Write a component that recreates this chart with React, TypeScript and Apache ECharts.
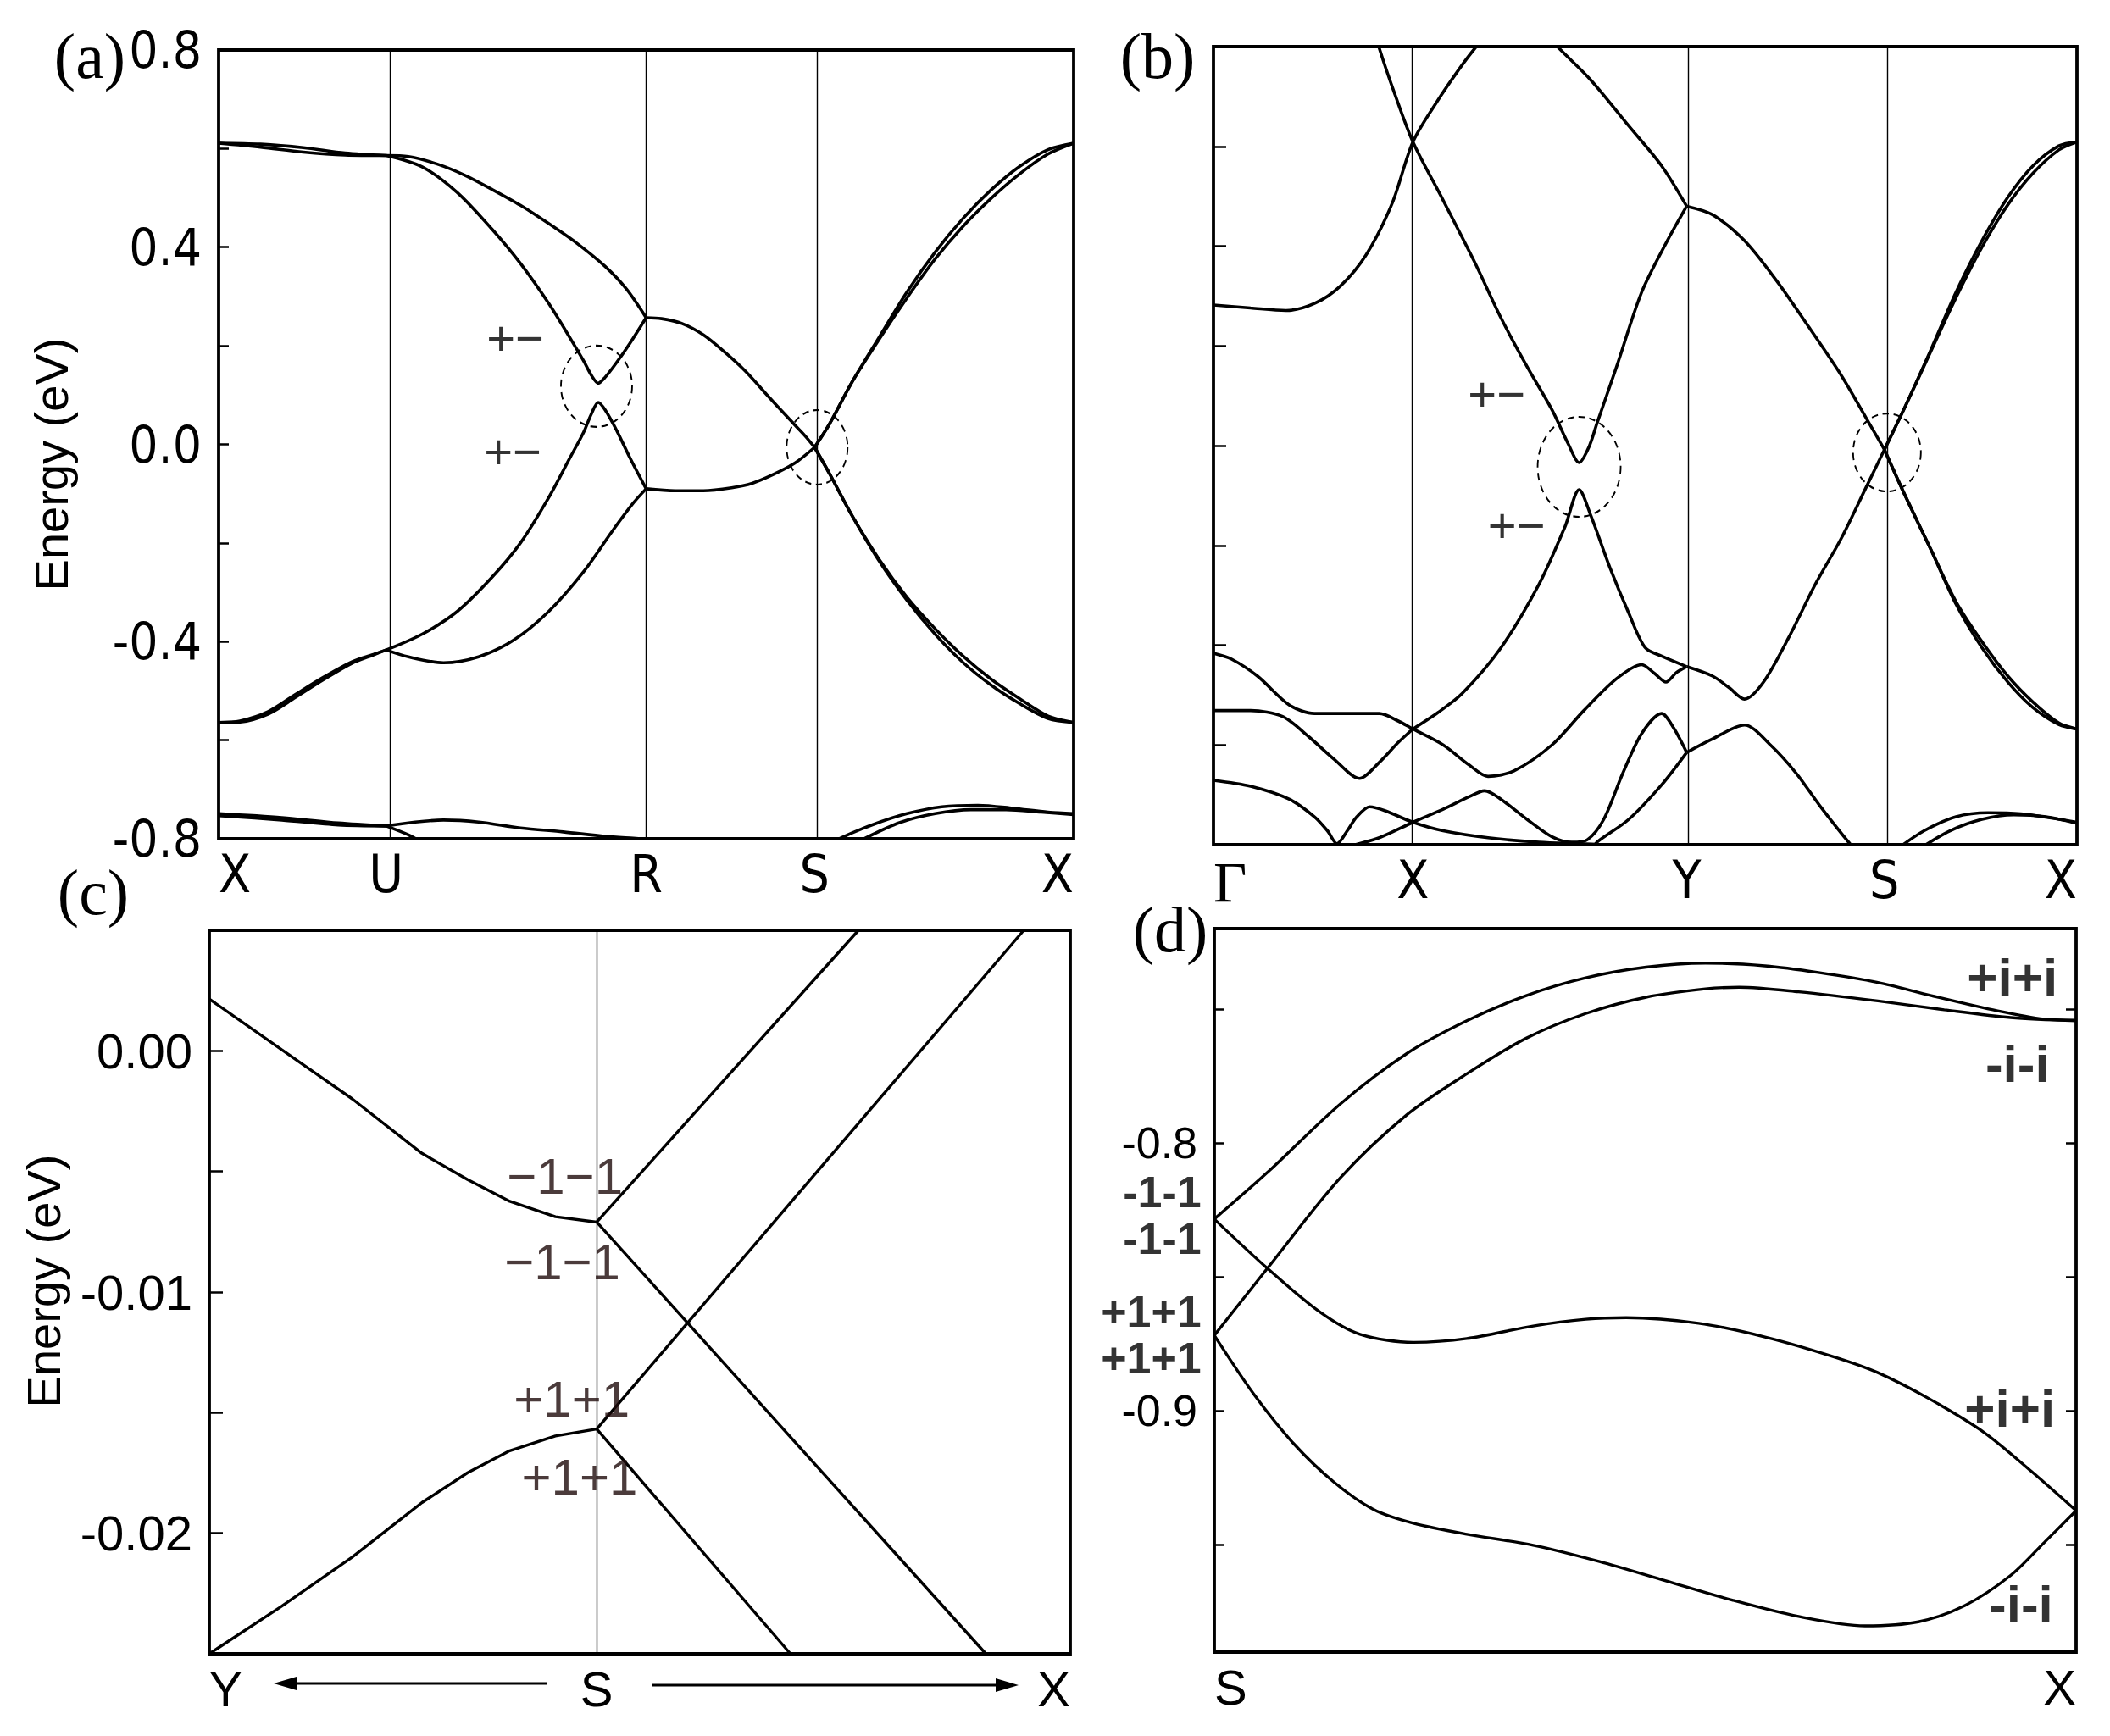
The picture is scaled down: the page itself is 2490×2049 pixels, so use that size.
import React, { useEffect, useRef } from "react";
import * as echarts from "echarts";

// ---------------- panel (a) ----------------
const aKLabels = ["X", "U", "R", "S", "X"];
const aKPos = [0, 0.196, 0.5, 0.697, 1];
const aXU1 = [[0, 0.611], [0.049, 0.609], [0.099, 0.602], [0.148, 0.591], [0.196, 0.586]];
const aXU2 = [[0, 0.611], [0.049, 0.603], [0.099, 0.593], [0.148, 0.587], [0.196, 0.586]];
const aUR1 = [[0.196, 0.586], [0.222, 0.584], [0.255, 0.569], [0.288, 0.546], [0.32, 0.517], [0.353, 0.485], [0.386, 0.448], [0.419, 0.408], [0.452, 0.361], [0.477, 0.315], [0.5, 0.257]];
const aUR2 = [[0.196, 0.586], [0.238, 0.563], [0.279, 0.511], [0.32, 0.436], [0.353, 0.367], [0.386, 0.286], [0.411, 0.216], [0.427, 0.169], [0.436, 0.14], [0.444, 0.124], [0.452, 0.136], [0.465, 0.165], [0.481, 0.205], [0.5, 0.257]];
const aRS1 = [[0.5, 0.257], [0.518, 0.255], [0.542, 0.245], [0.567, 0.222], [0.592, 0.187], [0.617, 0.147], [0.641, 0.101], [0.666, 0.054], [0.686, 0.017], [0.697, -0.006]];
const aSX1 = [[0.697, -0.006], [0.715, 0.043], [0.74, 0.124], [0.772, 0.216], [0.805, 0.309], [0.838, 0.39], [0.871, 0.459], [0.904, 0.517], [0.937, 0.564], [0.97, 0.598], [1, 0.611]];
const aSX2 = [[0.697, -0.006], [0.715, 0.043], [0.74, 0.124], [0.772, 0.212], [0.805, 0.297], [0.838, 0.376], [0.871, 0.443], [0.904, 0.5], [0.937, 0.549], [0.97, 0.589], [1, 0.611]];
const aSX3 = [[0.697, -0.006], [0.715, -0.061], [0.74, -0.142], [0.772, -0.235], [0.805, -0.316], [0.838, -0.385], [0.871, -0.443], [0.904, -0.489], [0.937, -0.526], [0.97, -0.556], [1, -0.564]];
const aSX4 = [[0.697, -0.006], [0.715, -0.061], [0.74, -0.142], [0.772, -0.232], [0.805, -0.31], [0.838, -0.374], [0.871, -0.43], [0.904, -0.477], [0.937, -0.516], [0.97, -0.551], [1, -0.564]];
const aXU3 = [[0, -0.564], [0.025, -0.561], [0.058, -0.542], [0.09, -0.507], [0.123, -0.472], [0.156, -0.441], [0.181, -0.426], [0.196, -0.417]];
const aXU4 = [[0, -0.564], [0.025, -0.563], [0.058, -0.547], [0.09, -0.513], [0.123, -0.477], [0.156, -0.444], [0.181, -0.427], [0.196, -0.417]];
const aUR3 = [[0.196, -0.417], [0.238, -0.385], [0.279, -0.339], [0.32, -0.269], [0.353, -0.2], [0.386, -0.108], [0.411, -0.027], [0.427, 0.025], [0.436, 0.062], [0.444, 0.085], [0.452, 0.07], [0.465, 0.03], [0.481, -0.027], [0.5, -0.09]];
const aUR4 = [[0.196, -0.417], [0.222, -0.431], [0.263, -0.443], [0.304, -0.431], [0.345, -0.397], [0.386, -0.339], [0.427, -0.258], [0.46, -0.177], [0.485, -0.119], [0.5, -0.09]];
const aRS2 = [[0.5, -0.09], [0.534, -0.094], [0.567, -0.094], [0.6, -0.088], [0.624, -0.079], [0.649, -0.061], [0.674, -0.038], [0.697, -0.006]];
const aXU5 = [[0, -0.749], [0.074, -0.757], [0.14, -0.768], [0.196, -0.774]];
const aXU6 = [[0, -0.753], [0.074, -0.762], [0.14, -0.772], [0.196, -0.774]];
const aUR5 = [[0.196, -0.774], [0.23, -0.766], [0.263, -0.762], [0.304, -0.766], [0.353, -0.778], [0.403, -0.786], [0.452, -0.795], [0.485, -0.799], [0.52, -0.803]];
const aUR6 = [[0.196, -0.774], [0.222, -0.792], [0.238, -0.807]];
const aSX5 = [[0.715, -0.813], [0.727, -0.799], [0.764, -0.772], [0.805, -0.749], [0.846, -0.735], [0.888, -0.732], [0.929, -0.738], [0.97, -0.746], [1, -0.749]];
const aSX6 = [[0.745, -0.812], [0.756, -0.799], [0.797, -0.767], [0.838, -0.749], [0.88, -0.741], [0.921, -0.741], [0.962, -0.746], [1, -0.751]];
const aMarkText = ["+\u2212", "+\u2212"];
const aMarkPos = [[0.347, 0.216], [0.344, -0.013]];
const aCirclePos = [[0.442, 0.118], [0.7, -0.006]];

// ---------------- panel (b) ----------------
const bKLabels = ["\u0393", "X", "Y", "S", "X"];
const bKPos = [0, 0.231, 0.548, 0.777, 1];
const b1 = [[0, 0.282], [0.043, 0.276], [0.084, 0.271], [0.117, 0.285], [0.147, 0.32], [0.177, 0.383], [0.207, 0.486], [0.231, 0.609], [0.259, 0.69], [0.285, 0.756], [0.303, 0.797], [0.318, 0.825]];
const b2 = [[0.184, 0.848], [0.192, 0.797], [0.21, 0.705], [0.231, 0.609], [0.266, 0.492], [0.303, 0.366], [0.333, 0.256], [0.363, 0.159], [0.392, 0.072], [0.411, 0.003], [0.4235, -0.034], [0.435, -0.002], [0.444, 0.044], [0.467, 0.159], [0.496, 0.308], [0.526, 0.412], [0.548, 0.48]];
const b3 = [[0.385, 0.825], [0.4, 0.797], [0.437, 0.733], [0.481, 0.641], [0.519, 0.561], [0.548, 0.48]];
const b4 = [[0.548, 0.48], [0.578, 0.463], [0.615, 0.411], [0.652, 0.331], [0.689, 0.239], [0.727, 0.141], [0.756, 0.055], [0.777, -0.008]];
const b5 = [[0.777, -0.008], [0.801, 0.078], [0.831, 0.193], [0.86, 0.308], [0.89, 0.411], [0.92, 0.498], [0.949, 0.561], [0.979, 0.601], [1, 0.609]];
const b5b = [[0.777, -0.008], [0.801, 0.078], [0.831, 0.19], [0.86, 0.297], [0.89, 0.398], [0.92, 0.483], [0.949, 0.546], [0.979, 0.593], [1, 0.609]];
const b6 = [[0.777, -0.008], [0.801, -0.1], [0.831, -0.209], [0.86, -0.313], [0.89, -0.393], [0.92, -0.462], [0.949, -0.514], [0.979, -0.556], [1, -0.568]];
const b6b = [[0.777, -0.008], [0.801, -0.1], [0.831, -0.209], [0.86, -0.318], [0.89, -0.405], [0.92, -0.474], [0.949, -0.525], [0.979, -0.559], [1, -0.568]];
const b7 = [[0.231, -0.568], [0.26, -0.535], [0.288, -0.497], [0.333, -0.405], [0.377, -0.278], [0.407, -0.163], [0.4235, -0.0885], [0.437, -0.14], [0.459, -0.244], [0.481, -0.336], [0.5, -0.405], [0.519, -0.422], [0.548, -0.443]];
const b8 = [[0, -0.416], [0.021, -0.428], [0.051, -0.462], [0.088, -0.52], [0.117, -0.537], [0.155, -0.537], [0.192, -0.537], [0.214, -0.552], [0.231, -0.568], [0.266, -0.6], [0.296, -0.64], [0.318, -0.663], [0.348, -0.652], [0.392, -0.6], [0.429, -0.531], [0.467, -0.467], [0.496, -0.439], [0.511, -0.457], [0.524, -0.474], [0.536, -0.455], [0.548, -0.443]];
const b9 = [[0, -0.531], [0.043, -0.531], [0.08, -0.543], [0.11, -0.583], [0.14, -0.629], [0.169, -0.667], [0.192, -0.635], [0.214, -0.595], [0.231, -0.568]];
const b10 = [[0, -0.671], [0.043, -0.683], [0.088, -0.709], [0.117, -0.744], [0.132, -0.772], [0.143, -0.798], [0.155, -0.772], [0.166, -0.744], [0.181, -0.724], [0.199, -0.732], [0.231, -0.755], [0.266, -0.772], [0.318, -0.786], [0.377, -0.795], [0.4235, -0.798], [0.452, -0.8], [0.47, -0.802]];
const b11 = [[0.148, -0.812], [0.155, -0.805], [0.192, -0.786], [0.231, -0.755], [0.266, -0.729], [0.296, -0.704], [0.314, -0.692], [0.333, -0.709], [0.363, -0.749], [0.392, -0.784], [0.415, -0.795], [0.433, -0.79], [0.452, -0.749], [0.474, -0.657], [0.496, -0.577], [0.519, -0.537], [0.533, -0.566], [0.548, -0.615]];
const b12 = [[0.44, -0.805], [0.444, -0.795], [0.481, -0.749], [0.519, -0.68], [0.548, -0.615]];
const b13 = [[0.548, -0.443], [0.578, -0.462], [0.597, -0.485], [0.615, -0.508], [0.637, -0.474], [0.667, -0.382], [0.697, -0.278], [0.727, -0.186], [0.756, -0.083], [0.777, -0.008]];
const b14 = [[0.548, -0.615], [0.578, -0.588], [0.615, -0.56], [0.645, -0.6], [0.675, -0.657], [0.704, -0.726], [0.738, -0.8], [0.749, -0.818]];
const b15 = [[0.793, -0.807], [0.823, -0.772], [0.86, -0.744], [0.897, -0.736], [0.935, -0.738], [0.972, -0.747], [1, -0.755]];
const b16 = [[0.819, -0.807], [0.853, -0.772], [0.89, -0.749], [0.927, -0.74], [0.964, -0.744], [1, -0.757]];
const bMarkText = ["+\u2212", "+\u2212"];
const bMarkPos = [[0.328, 0.104], [0.351, -0.158]];
const bCirclePos = [[0.4235, -0.0425], [0.78, -0.0138]];

// ---------------- panel (c) ----------------
const cKLabels = ["Y", "S", "X"];
const cKPos = [0, 0.45, 1];
const c1 = [[0, 0.00215], [0.084, 0.00005], [0.166, -0.00199], [0.247, -0.00425], [0.3, -0.00534], [0.349, -0.00624], [0.402, -0.00688], [0.45, -0.0071]];
const c2 = [[0.45, -0.0071], [0.754, 0.005]];
const c3 = [[0.45, -0.0071], [0.902, -0.025]];
const c4 = [[0, -0.025], [0.084, -0.02303], [0.166, -0.02099], [0.247, -0.01873], [0.3, -0.01749], [0.349, -0.01658], [0.402, -0.01597], [0.45, -0.01568]];
const c5 = [[0.45, -0.01568], [0.946, 0.005]];
const c6 = [[0.45, -0.01568], [0.675, -0.025]];
const cYLabels = [0, -0.01, -0.02];
const cYTicks = [0, -0.005, -0.01, -0.015, -0.02];
const cMarkText = ["\u22121\u22121", "\u22121\u22121", "+1+1", "+1+1"];
const cMarkPos = [[0.413, -0.00519], [0.41, -0.00877], [0.421, -0.01446], [0.43, -0.01769]];

// ---------------- panel (d) ----------------
const dKLabels = ["S", "X"];
const dKPos = [0, 1];
const d1 = [[0, -0.8284], [0.0616, -0.811], [0.146, -0.7855], [0.223, -0.7667], [0.293, -0.7544], [0.362, -0.745], [0.431, -0.7384], [0.501, -0.7344], [0.57, -0.7329], [0.639, -0.7339], [0.701, -0.7364], [0.77, -0.7401], [0.832, -0.745], [0.909, -0.7507], [0.963, -0.7538], [1, -0.7542]];
const d2 = [[0, -0.8718], [0.0616, -0.8468], [0.146, -0.8131], [0.223, -0.7896], [0.293, -0.7742], [0.362, -0.7609], [0.431, -0.7517], [0.501, -0.7456], [0.57, -0.7425], [0.609, -0.7419], [0.678, -0.7436], [0.77, -0.747], [0.847, -0.7503], [0.924, -0.7532], [1, -0.7544]];
const d3 = [[0, -0.8284], [0.0616, -0.8468], [0.123, -0.8632], [0.169, -0.8714], [0.231, -0.8744], [0.293, -0.873], [0.37, -0.8683], [0.431, -0.8658], [0.478, -0.8652], [0.562, -0.8673], [0.639, -0.8724], [0.717, -0.8796], [0.77, -0.8857], [0.832, -0.8959], [0.894, -0.9082], [0.948, -0.9225], [1, -0.9372]];
const d4 = [[0, -0.8718], [0.0462, -0.8939], [0.0924, -0.9123], [0.139, -0.9266], [0.185, -0.9368], [0.231, -0.9419], [0.293, -0.946], [0.37, -0.9501], [0.447, -0.9562], [0.524, -0.9634], [0.601, -0.9706], [0.678, -0.9767], [0.755, -0.9802], [0.817, -0.9787], [0.871, -0.9726], [0.924, -0.9614], [0.963, -0.9491], [1, -0.9372]];
const dYLabels = [-0.8, -0.9];
const dYTicks = [-0.75, -0.8, -0.85, -0.9, -0.95];
const dRightText = ["+i+i", "-i-i", "+i+i", "-i-i"];
const dRightPos = [[0.926, -0.7383], [0.932, -0.7703], [0.923, -0.899], [0.936, -0.972]];
const dLeftText = ["-1-1\n-1-1", "+1+1\n+1+1"];
const dLeftPos = [[-0.015, -0.827], [-0.015, -0.8715]];

// ---------------- styles ----------------
const NARROW = "'Liberation Sans Narrow', 'DejaVu Sans Condensed', 'Arial Narrow', sans-serif";
const SANS = "'Liberation Sans', Arial, sans-serif";
const SERIF = "'Liberation Serif', 'Times New Roman', serif";

const pick = (pos: number[], names: string[], v: number) => {
  const i = pos.findIndex((p) => Math.abs(p - v) < 1e-6);
  return i >= 0 ? names[i] : "";
};

const band = (data: number[][], g: number, smooth = true, width = 3.6) => ({
  type: "line",
  xAxisIndex: g,
  yAxisIndex: g,
  data,
  smooth: smooth ? 0.3 : false,
  symbol: "none",
  silent: true,
  clip: true,
  lineStyle: { color: "#000", width },
  z: 3,
});

const vlines = (g: number, xs: number[]) => ({
  type: "line",
  xAxisIndex: g,
  yAxisIndex: g,
  data: [],
  silent: true,
  markLine: {
    silent: true,
    symbol: ["none", "none"],
    label: { show: false },
    lineStyle: { color: "#000", width: 1.4, type: "solid", opacity: 1 },
    emphasis: { disabled: true },
    data: xs.map((x) => ({ xAxis: x })),
  },
});

const circles = (g: number, pos: number[][], sizes: number[][]) => ({
  type: "scatter",
  xAxisIndex: g,
  yAxisIndex: g,
  clip: false,
  silent: true,
  symbol: "circle",
  data: pos.map((p, i) => ({ value: p, symbolSize: sizes[i] })),
  itemStyle: { color: "rgba(0,0,0,0)", borderColor: "#000", borderWidth: 2, borderType: [8, 6], opacity: 1 },
  z: 4,
});

const marks = (g: number, yIdx: number, pos: number[][], texts: string[], style: any) => ({
  type: "scatter",
  xAxisIndex: g,
  yAxisIndex: yIdx,
  clip: false,
  silent: true,
  symbolSize: 1,
  itemStyle: { color: "rgba(0,0,0,0)" },
  data: pos.map((p, i) => ({ value: p, name: texts[i] })),
  label: { show: true, position: "inside", formatter: "{b}", ...style },
  z: 5,
});

const kAxis = (g: number, pos: number[], names: string[], font: string, size: number, margin: number, rich?: any) => ({
  gridIndex: g,
  type: "value",
  min: 0,
  max: 1,
  axisLine: { show: false },
  axisTick: { show: false },
  splitLine: { show: false },
  axisLabel: {
    customValues: pos,
    formatter: (v: number) => pick(pos, names, v),
    fontFamily: font,
    fontSize: size,
    color: "#000",
    margin,
    alignMinLabel: "left",
    alignMaxLabel: "right",
    rich,
  },
});

const txt = (text: string, x: number, y: number, font: string, size: number, extra: any = {}) => ({
  type: "text",
  x,
  y,
  ...extra,
  style: {
    text,
    fontFamily: font,
    fontSize: size,
    fill: "#000",
    align: "center",
    verticalAlign: "middle",
    textAlign: "center",
    textVerticalAlign: "middle",
  },
});

export default function App() {
  const ref = useRef<HTMLDivElement>(null);
  useEffect(() => {
    document.body.style.margin = "0";
    const chart = echarts.init(ref.current!, null, { renderer: "svg" });
    const gridBase = { show: true, borderColor: "#000", borderWidth: 3.8, backgroundColor: "rgba(0,0,0,0)", containLabel: false };
    const option: any = {
      animation: false,
      backgroundColor: "#fff",
      grid: [
        { ...gridBase, left: 258, top: 59, width: 1009, height: 931 },
        { ...gridBase, left: 1432, top: 55, width: 1019, height: 942 },
        { ...gridBase, left: 247, top: 1098, width: 1016, height: 854 },
        { ...gridBase, left: 1433, top: 1096, width: 1017, height: 854 },
      ],
      xAxis: [
        kAxis(0, aKPos, aKLabels, NARROW, 62, 10),
        kAxis(1, bKPos, bKLabels, NARROW, 62, 10, { g: { fontFamily: SERIF, fontSize: 68, color: "#000" } }),
        kAxis(2, cKPos, cKLabels, SANS, 58, 12),
        kAxis(3, dKPos, dKLabels, SANS, 58, 12),
      ].map((ax: any, i: number) =>
        i === 1
          ? { ...ax, axisLabel: { ...ax.axisLabel, formatter: (v: number) => { const s = pick(bKPos, bKLabels, v); return s === "\u0393" ? "{g|\u0393}" : s; } } }
          : ax
      ),
      yAxis: [
        {
          gridIndex: 0, type: "value", min: -0.8, max: 0.8, interval: 0.2,
          axisLine: { show: false }, splitLine: { show: false },
          axisTick: { show: true, inside: true, length: 12, lineStyle: { color: "#000", width: 2.5 } },
          axisLabel: {
            formatter: (v: number) => (Math.abs(v / 0.4 - Math.round(v / 0.4)) < 1e-6 ? v.toFixed(1) : ""),
            fontFamily: NARROW, fontSize: 60, color: "#000", margin: 20,
          },
        },
        {
          gridIndex: 1, type: "value", min: -0.8, max: 0.8, interval: 0.2,
          axisLine: { show: false }, splitLine: { show: false },
          axisTick: { show: true, inside: true, length: 15, lineStyle: { color: "#000", width: 2.5 } },
          axisLabel: { show: false },
        },
        {
          gridIndex: 2, type: "value", min: -0.025, max: 0.005,
          axisLine: { show: false }, splitLine: { show: false },
          axisTick: { show: true, inside: true, length: 16, customValues: cYTicks, lineStyle: { color: "#000", width: 2.5 } },
          axisLabel: { customValues: cYLabels, formatter: (v: number) => v.toFixed(2), fontFamily: SANS, fontSize: 58, color: "#000", margin: 20 },
        },
        {
          gridIndex: 3, type: "value", min: -0.99, max: -0.72,
          axisLine: { show: false }, splitLine: { show: false },
          axisTick: { show: true, inside: true, length: 12, customValues: dYTicks, lineStyle: { color: "#000", width: 2.5 } },
          axisLabel: { customValues: dYLabels, formatter: (v: number) => v.toFixed(1), fontFamily: SANS, fontSize: 52, color: "#000", margin: 20 },
        },
        {
          gridIndex: 3, type: "value", position: "right", min: -0.99, max: -0.72,
          axisLine: { show: false }, splitLine: { show: false },
          axisTick: { show: true, inside: true, length: 12, customValues: dYTicks, lineStyle: { color: "#000", width: 2.5 } },
          axisLabel: { show: false },
        },
      ],
      series: [
        vlines(0, [aKPos[1], aKPos[2], aKPos[3]]),
        vlines(1, [bKPos[1], bKPos[2], bKPos[3]]),
        vlines(2, [cKPos[1]]),
        ...[aXU1, aXU2, aUR1, aUR2, aRS1, aSX1, aSX2, aSX3, aSX4, aXU3, aXU4, aUR3, aUR4, aRS2, aXU5, aXU6, aUR5, aUR6, aSX5, aSX6].map((d) => band(d, 0)),
        ...[b1, b2, b3, b4, b5, b5b, b6, b6b, b7, b8, b9, b10, b11, b12, b13, b14, b15, b16].map((d) => band(d, 1)),
        ...[c1, c2, c3, c4, c5, c6].map((d) => band(d, 2, false, 3.4)),
        ...[d1, d2, d3, d4].map((d) => band(d, 3, true, 3.4)),
        circles(0, aCirclePos, [[84, 96], [72, 88]]),
        circles(1, bCirclePos, [[98, 118], [80, 92]]),
        marks(0, 0, aMarkPos, aMarkText, { fontFamily: SANS, fontSize: 58, color: "#000" }),
        marks(1, 1, bMarkPos, bMarkText, { fontFamily: SANS, fontSize: 58, color: "#000" }),
        marks(2, 2, cMarkPos, cMarkText, { fontFamily: SANS, fontSize: 60, color: "#1e0a0a" }),
        marks(3, 3, dRightPos, dRightText, { fontFamily: SANS, fontSize: 62, fontWeight: "bold", color: "#000" }),
        marks(3, 3, dLeftPos, dLeftText, { fontFamily: SANS, fontSize: 52, fontWeight: "bold", color: "#000", align: "right", lineHeight: 55 }),
      ],
      graphic: [
        txt("(a)", 106, 66, SERIF, 76),
        txt("(b)", 1366, 66, SERIF, 76),
        txt("(c)", 110, 1053, SERIF, 76),
        txt("(d)", 1381, 1097, SERIF, 76),
        txt("Energy (eV)", 60, 548, SANS, 56, { rotation: Math.PI / 2 }),
        txt("Energy (eV)", 51, 1512, SANS, 56, { rotation: Math.PI / 2 }),
        { type: "line", shape: { x1: 646, y1: 1987, x2: 345, y2: 1987 }, style: { stroke: "#000", lineWidth: 3 } },
        { type: "polygon", shape: { points: [[323, 1987], [350, 1979], [350, 1995]] }, style: { fill: "#000" } },
        { type: "line", shape: { x1: 770, y1: 1989, x2: 1180, y2: 1989 }, style: { stroke: "#000", lineWidth: 3 } },
        { type: "polygon", shape: { points: [[1202, 1989], [1175, 1981], [1175, 1997]] }, style: { fill: "#000" } },
      ],
    };
    chart.setOption(option);
    return () => chart.dispose();
  }, []);
  return <div ref={ref} style={{ width: 2490, height: 2049 }} />;
}
